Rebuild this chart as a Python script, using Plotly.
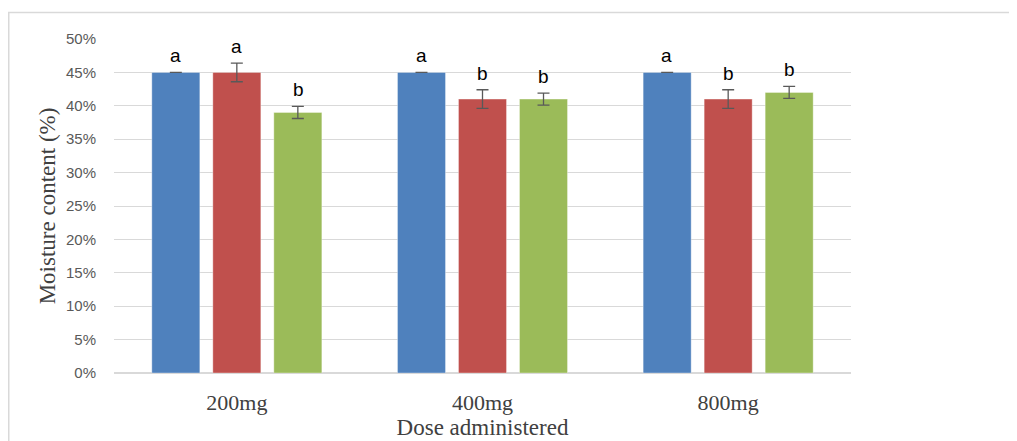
import plotly.graph_objects as go

categories = ["200mg", "400mg", "800mg"]
series_names = ["Series 1", "Series 2", "Series 3"]
values = [
    [45, 45, 45],   # blue
    [45, 41, 41],   # red
    [39, 41, 42],   # green
]
errors = [
    [0.0, 0.0, 0.0],
    [1.4, 1.4, 1.4],
    [0.9, 0.9, 0.9],
]
letters = [
    ["a", "a", "a"],
    ["a", "b", "b"],
    ["b", "b", "b"],
]
colors = ["#4F81BD", "#C0504D", "#9BBB59"]
tick_vals = [0, 5, 10, 15, 20, 25, 30, 35, 40, 45, 50]
tick_text = [f"{v}%" for v in tick_vals]

# page body has an 8px margin, so the figure is drawn 8px in from the window edge
OFF = 8
W, H = 1017 - OFF, 441 - OFF
ML, MT = 114 - OFF, 39 - OFF
PW, PH = 737, 334
MR = W - ML - PW
MB = H - MT - PH

fig = go.Figure()
for i in range(3):
    fig.add_trace(go.Bar(
        x=categories, y=values[i], name=series_names[i],
        marker=dict(color=colors[i], line=dict(color="rgba(255,255,255,0.35)", width=1)),
        error_y=dict(type="data", array=errors[i], visible=True,
                     color="#595959", thickness=1.3, width=6),
        offsetgroup=str(i),
    ))

n = len(series_names)
for i in range(n):
    for j, cat in enumerate(categories):
        fig.add_annotation(
            x=cat, y=values[i][j] + errors[i][j], xref="x", yref="y",
            text=letters[i][j], showarrow=False, yanchor="bottom", yshift=4,
            xshift=(i - (n - 1) / 2) * 61.3,
            font=dict(family="Liberation Sans, Arial, sans-serif", size=19, color="#000000"),
        )

# light grey frame around the chart area (extends past the window on right/bottom)
fig.add_shape(type="rect", xref="paper", yref="paper",
              x0=(0.75 - ML) / PW, x1=(W + 20 - ML) / PW,
              y0=-(H + 20 - MT - PH) / PH, y1=1 + (MT - 4.5) / PH,
              line=dict(color="#D9D9D9", width=1.5), fillcolor="rgba(0,0,0,0)", layer="below")

fig.update_layout(
    width=W, height=H,
    margin=dict(l=ML, r=MR, t=MT, b=MB, autoexpand=False),
    paper_bgcolor="white", plot_bgcolor="white",
    showlegend=False,
    barmode="group", bargap=0.255, bargroupgap=0.213,
    xaxis=dict(
        showgrid=False, showline=False, automargin=False,
        ticks="outside", ticklen=10, tickcolor="rgba(0,0,0,0)",
        tickfont=dict(family="Liberation Serif, Times New Roman, serif", size=22, color="#404040"),
        title=dict(text="Dose administered", standoff=3,
                   font=dict(family="Liberation Serif, Times New Roman, serif", size=23, color="#404040")),
    ),
    yaxis=dict(
        range=[0, 50], tickvals=tick_vals, ticktext=tick_text, automargin=False,
        showgrid=True, gridcolor="#D9D9D9", gridwidth=1,
        zeroline=True, zerolinecolor="#D9D9D9", zerolinewidth=1.5,
        ticks="outside", ticklen=14, tickcolor="rgba(0,0,0,0)",
        tickfont=dict(family="Liberation Sans, Arial, sans-serif", size=15, color="#595959"),
        title=dict(text="Moisture content (%)", standoff=3,
                   font=dict(family="Liberation Serif, Times New Roman, serif", size=23, color="#404040")),
    ),
)

fig.write_html("out.html")
